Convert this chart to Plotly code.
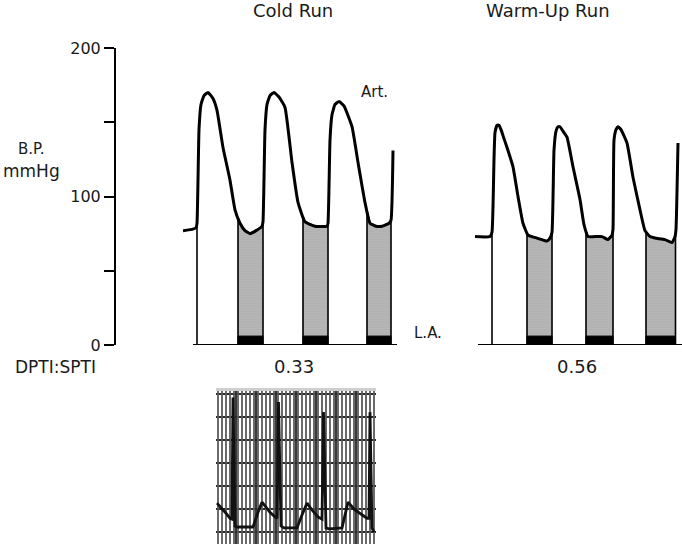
import numpy as np
import plotly.graph_objects as go

# arterial pressure, cold run (time s, mmHg)
cold_t = [-0.10, 0.00, 0.03, 0.04, 0.06, 0.08, 0.11, 0.15, 0.20, 0.24, 0.30, 0.37, 0.42, 0.47, 0.52,
          0.57, 0.63, 0.69, 0.70, 0.72, 0.74, 0.77, 0.81, 0.86, 0.92, 0.99, 1.05, 1.12, 1.22, 1.34,
          1.35, 1.37, 1.39, 1.42, 1.46, 1.51, 1.59, 1.65, 1.72, 1.77, 1.83, 1.89, 1.96, 1.98, 2.00]
cold_p = [77, 78, 79, 82, 145, 162, 168, 170, 166, 158, 133, 111, 91, 82, 77,
          75, 77, 80, 83, 145, 162, 168, 170, 167, 160, 123, 96, 83, 80, 80,
          82, 138, 155, 162, 164, 161, 147, 123, 96, 82, 80, 80, 82, 84, 131]
cold_shade = [(0.45, 0.70), (1.10, 1.35), (1.74, 1.98)]
cold_upstroke = 0.04

# arterial pressure, warm-up run
warm_t = [-0.03, 0.12, 0.14, 0.16, 0.17, 0.19, 0.21, 0.23, 0.25, 0.29, 0.35, 0.40, 0.45, 0.50, 0.59,
          0.69, 0.72, 0.74, 0.76, 0.78, 0.80, 0.82, 0.85, 0.89, 0.95, 1.02, 1.06, 1.10, 1.17, 1.24,
          1.30, 1.34, 1.35, 1.36, 1.38, 1.40, 1.43, 1.49, 1.55, 1.62, 1.67, 1.72, 1.77, 1.87, 1.94,
          1.97, 1.98, 2.00]
warm_p = [73, 73, 76, 125, 143, 148, 148, 145, 141, 133, 120, 100, 82, 74, 72,
          70, 72, 76, 131, 144, 147, 147, 144, 140, 120, 98, 81, 73, 73, 73,
          71, 74, 78, 138, 145, 147, 145, 136, 113, 91, 77, 73, 72, 71, 69,
          73, 78, 136]
warm_shade = [(0.49, 0.74), (1.08, 1.35), (1.68, 1.975)]
warm_upstroke = 0.14

la_pressure = 6  # mmHg
baseline_end = 2.04
ratio_labels = ["0.33", "0.56"]

# ECG strip (time s, mV)
ecg_t = [0.01, 0.06, 0.10, 0.14, 0.16, 0.17, 0.19, 0.21, 0.37, 0.42, 0.46, 0.50, 0.54, 0.59,
         0.61, 0.625, 0.65, 0.68, 0.81, 0.86, 0.91, 0.96, 1.02, 1.06, 1.075, 1.10, 1.13, 1.26,
         1.32, 1.39, 1.46, 1.51, 1.53, 1.54, 1.56, 1.58]
ecg_mv = [0.63, 0.52, 0.41, 0.30, 0.28, 2.93, 0.13, 0.11, 0.11, 0.43, 0.65, 0.54, 0.43, 0.33,
          0.30, 2.83, 0.13, 0.09, 0.09, 0.37, 0.63, 0.48, 0.33, 0.28, 2.61, 0.09, 0.07, 0.09,
          0.65, 0.48, 0.37, 0.30, 0.30, 2.61, 0.09, 0.0]
ecg_xrange = [0, 1.6]
ecg_yrange = [-0.26, 3.07]

W, H = 682, 544
FONT = "DejaVu Sans"
INK = "#1a1a1a"


# pixel position in the window -> paper fraction
def px(x):
    return x / W


def py(y):
    return 1 - y / H


fig = go.Figure()


def add_run(t, p, shade, upstroke, xa):
    for t0, t1 in shade:
        inner = [(a, b) for a, b in zip(t, p) if t0 < a < t1]
        top0 = float(np.interp(t0, t, p))
        top1 = float(np.interp(t1, t, p))
        xs = [t0] + [a for a, _ in inner] + [t1, t1, t0, t0]
        ys = [top0] + [b for _, b in inner] + [top1, 0, 0, top0]
        fig.add_trace(go.Scatter(
            x=xs, y=ys, xaxis=xa, yaxis="y", mode="lines", fill="toself",
            fillcolor="#b8b8b8",
            fillpattern=dict(shape=".", fgcolor="#8c8c8c", bgcolor="#c0c0c0", size=2, solidity=0.3),
            line=dict(color="black", width=1.6), hoverinfo="skip"))
        fig.add_trace(go.Scatter(
            x=[t0, t1, t1, t0, t0], y=[0, 0, la_pressure, la_pressure, 0], xaxis=xa, yaxis="y",
            mode="lines", fill="toself", fillcolor="black",
            line=dict(color="black", width=1), hoverinfo="skip"))
    fig.add_trace(go.Scatter(
        x=[upstroke, upstroke], y=[0, float(np.interp(upstroke, t, p))], xaxis=xa, yaxis="y",
        mode="lines", line=dict(color="black", width=1.6), hoverinfo="skip"))
    fig.add_trace(go.Scatter(
        x=[0, baseline_end], y=[0, 0], xaxis=xa, yaxis="y",
        mode="lines", line=dict(color="black", width=2.2), hoverinfo="skip"))
    fig.add_trace(go.Scatter(
        x=t, y=p, xaxis=xa, yaxis="y", mode="lines",
        line=dict(color="black", width=3, shape="spline", smoothing=0.4), hoverinfo="skip"))


add_run(cold_t, cold_p, cold_shade, cold_upstroke, "x")
add_run(warm_t, warm_p, warm_shade, warm_upstroke, "x2")

# chart paper: fine vertical rulings over the strip
x0, x1 = ecg_xrange
y0, y1 = ecg_yrange
fig.add_trace(go.Scatter(
    x=[x0, x1, x1, x0, x0], y=[y0, y0, y1, y1, y0], xaxis="x3", yaxis="y3",
    mode="none", fill="toself", fillcolor="rgba(0,0,0,0)",
    fillpattern=dict(shape="|", fgcolor="#5a5a5a", bgcolor="rgba(0,0,0,0)", size=4, solidity=0.45),
    hoverinfo="skip"))
fig.add_trace(go.Scatter(
    x=ecg_t, y=ecg_mv, xaxis="x3", yaxis="y3", mode="lines",
    line=dict(color="#111", width=2.8), hoverinfo="skip"))

fig.update_layout(
    template="none",
    width=W, height=H, margin=dict(l=0, r=0, t=0, b=0, autoexpand=False),
    paper_bgcolor="white", plot_bgcolor="white", showlegend=False,
    font=dict(family=FONT, color=INK),
    xaxis=dict(domain=[px(183), px(403)], range=[-0.10, 2.10], anchor="y", visible=False,
               automargin=False),
    xaxis2=dict(domain=[px(473), px(682)], range=[-0.05, 2.04], anchor="y", visible=False,
                automargin=False),
    yaxis=dict(domain=[py(345), py(48)], range=[0, 200], anchor="free", position=px(115),
               automargin=False,
               showline=True, linecolor="black", linewidth=2, ticks="outside", ticklen=10,
               tickwidth=2, tickcolor="black", showgrid=False, zeroline=False,
               tickmode="array", tickvals=[0, 50, 100, 150, 200], ticktext=["0", "", "100", "", "200"],
               tickfont=dict(size=16, family=FONT, color=INK)),
    xaxis3=dict(domain=[px(216), px(376)], range=ecg_xrange, anchor="y3", side="top",
                automargin=False, showline=True, linecolor="#cfcfcf", linewidth=3,
                showticklabels=False, ticks="",
                showgrid=True, tickmode="linear", dtick=0.2, tick0=0,
                gridcolor="#3a3a3a", gridwidth=1.5, zeroline=False),
    yaxis3=dict(domain=[0, py(391)], range=ecg_yrange, anchor="x3", showticklabels=False,
                automargin=False, ticks="",
                showgrid=True, tickmode="linear", dtick=0.5, tick0=0, gridcolor="#2a2a2a",
                gridwidth=2.2, zeroline=False, showline=False),
)

texts = [
    ("Cold Run", 293, 10, 18),
    ("Warm-Up Run", 548, 10, 18),
    ("Art.", 375, 92, 15),
    ("L.A.", 428, 333, 15),
    (ratio_labels[0], 294, 366, 18),
    (ratio_labels[1], 577, 366, 18),
    ("B.P.", 31, 149, 15),
    ("mmHg", 31, 171, 17),
    ("DPTI:SPTI", 55, 367, 17),
]
for s, x, y, size in texts:
    fig.add_annotation(text=s, x=px(x), y=py(y), xref="paper", yref="paper",
                       xanchor="center", yanchor="middle", showarrow=False,
                       font=dict(size=size, family=FONT, color=INK))

# drop the default page margin so the figure sits at the window's corner
fig.write_html("out.html", config={"displayModeBar": False},
               post_script="document.body.style.margin='0';")
